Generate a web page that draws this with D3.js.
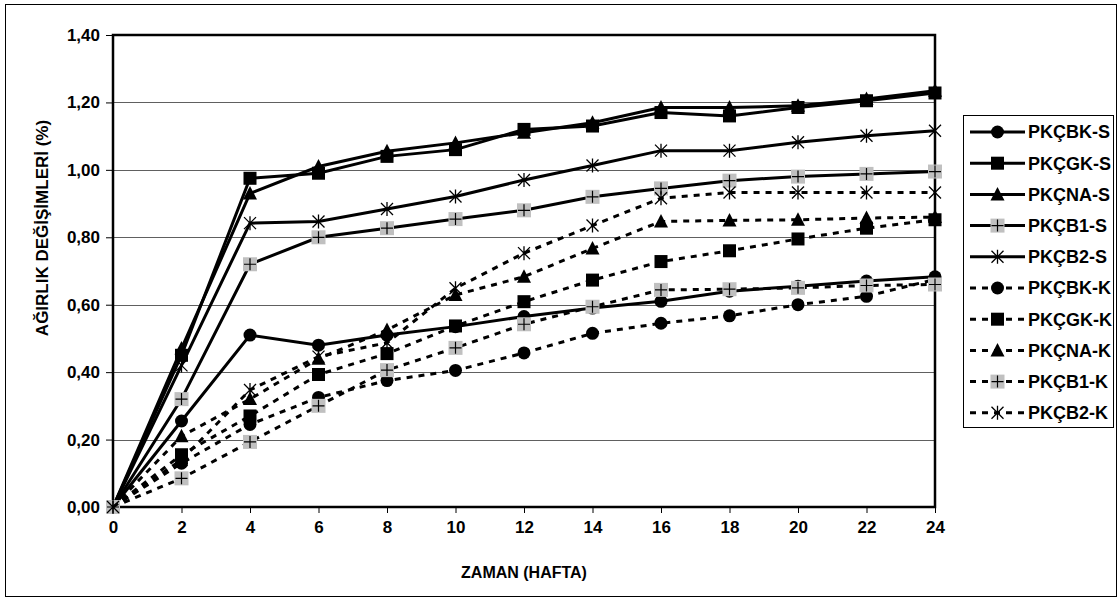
<!DOCTYPE html>
<html>
<head>
<meta charset="utf-8">
<script src="https://cdn.jsdelivr.net/npm/d3@7"></script>
<style>
  html, body { margin: 0; padding: 0; background: #fff; }
  svg { display: block; font-family: "Liberation Sans", Arial, sans-serif; }
</style>
</head>
<body>
<svg id="chart" width="1119" height="600"></svg>
<script>
// Weight change (%) of the samples over time (weeks)
const weeks = [0, 2, 4, 6, 8, 10, 12, 14, 16, 18, 20, 22, 24];
const yTicks = [0, 0.2, 0.4, 0.6, 0.8, 1.0, 1.2, 1.4];

const seriesNames = ["PKÇBK-S", "PKÇGK-S", "PKÇNA-S", "PKÇB1-S", "PKÇB2-S",
                     "PKÇBK-K", "PKÇGK-K", "PKÇNA-K", "PKÇB1-K", "PKÇB2-K"];

const bkS = [0, 0.255, 0.51, 0.48, 0.51, 0.535, 0.565, 0.59, 0.61, 0.64, 0.655, 0.67, 0.683];
const gkS = [0, 0.45, 0.975, 0.99, 1.04, 1.06, 1.12, 1.13, 1.17, 1.16, 1.185, 1.205, 1.228];
const naS = [0, 0.47, 0.93, 1.01, 1.055, 1.08, 1.11, 1.14, 1.185, 1.185, 1.19, 1.21, 1.235];
const b1S = [0, 0.32, 0.72, 0.80, 0.827, 0.854, 0.88, 0.92, 0.945, 0.968, 0.98, 0.988, 0.995];
const b2S = [0, 0.42, 0.842, 0.847, 0.884, 0.921, 0.97, 1.013, 1.057, 1.057, 1.082, 1.101, 1.116];
const bkK = [0, 0.13, 0.245, 0.325, 0.375, 0.405, 0.457, 0.515, 0.545, 0.567, 0.60, 0.625, 0.675];
const gkK = [0, 0.155, 0.27, 0.393, 0.455, 0.537, 0.609, 0.673, 0.728, 0.76, 0.795, 0.827, 0.852];
const naK = [0, 0.21, 0.32, 0.44, 0.525, 0.629, 0.683, 0.767, 0.847, 0.85, 0.852, 0.857, 0.86];
const b1K = [0, 0.085, 0.193, 0.30, 0.406, 0.472, 0.542, 0.594, 0.644, 0.646, 0.65, 0.657, 0.66];
const b2K = [0, 0.14, 0.347, 0.446, 0.487, 0.649, 0.753, 0.835, 0.916, 0.933, 0.933, 0.933, 0.933];

const seriesValues = [bkS, gkS, naS, b1S, b2S, bkK, gkK, naK, b1K, b2K];
const markerTypes = ["circle", "square", "triangle", "plus", "star",
                     "circle", "square", "triangle", "plus", "star"];
const dashedFlags = [false, false, false, false, false, true, true, true, true, true];

const series = seriesNames.map((name, i) => ({
  name,
  values: seriesValues[i].map((v, j) => ({ w: weeks[j], v })),
  marker: markerTypes[i],
  dashed: dashedFlags[i]
}));

const svg = d3.select("#chart");
const plot = { left: 113, right: 935, top: 35, bottom: 507 };

const x = d3.scaleLinear().domain([0, 24]).range([plot.left, plot.right]);
const y = d3.scaleLinear().domain([0, 1.4]).range([plot.bottom, plot.top]);

// outer chart frame
svg.append("rect")
  .attr("x", 5.5).attr("y", 4.5).attr("width", 1111).attr("height", 592)
  .attr("fill", "none").attr("stroke", "#000").attr("stroke-width", 1);

// horizontal gridlines
svg.append("g")
  .selectAll("line")
  .data(yTicks.filter(t => t > 0 && t < 1.4))
  .join("line")
  .attr("x1", plot.left).attr("x2", plot.right)
  .attr("y1", d => Math.round(y(d)) + 0.5).attr("y2", d => Math.round(y(d)) + 0.5)
  .attr("stroke", "#606060").attr("stroke-width", 1);

// y axis
const yAxis = svg.append("g")
  .attr("transform", `translate(${plot.left},0)`)
  .call(d3.axisLeft(y).tickValues(yTicks).tickSize(7).tickPadding(6)
    .tickFormat(d => d.toFixed(2).replace(".", ",")));
yAxis.select(".domain").remove();
yAxis.selectAll(".tick line").attr("stroke", "#000");
yAxis.selectAll(".tick text")
  .attr("font-size", 17).attr("font-weight", "bold").attr("fill", "#000")
  .attr("font-family", "Liberation Sans, Arial, sans-serif");

// x axis
const xAxis = svg.append("g")
  .attr("transform", `translate(0,${plot.bottom})`)
  .call(d3.axisBottom(x).tickValues(weeks).tickSize(6).tickPadding(8)
    .tickFormat(d3.format("d")));
xAxis.select(".domain").remove();
xAxis.selectAll(".tick line").attr("stroke", "#000");
xAxis.selectAll(".tick text")
  .attr("font-size", 17).attr("font-weight", "bold").attr("fill", "#000")
  .attr("font-family", "Liberation Sans, Arial, sans-serif");

// plot area border
svg.append("rect")
  .attr("x", plot.left).attr("y", plot.top)
  .attr("width", plot.right - plot.left).attr("height", plot.bottom - plot.top)
  .attr("fill", "none").attr("stroke", "#000").attr("stroke-width", 2.5);

// axis titles
svg.append("text")
  .attr("transform", "translate(48,228) rotate(-90)")
  .attr("text-anchor", "middle")
  .attr("font-size", 17).attr("font-weight", "bold")
  .text("AĞIRLIK DEĞİŞİMLERİ (%)");

svg.append("text")
  .attr("x", (plot.left + plot.right) / 2).attr("y", 578)
  .attr("text-anchor", "middle")
  .attr("font-size", 16).attr("font-weight", "bold")
  .text("ZAMAN (HAFTA)");

// marker drawing
function drawMarker(g, type) {
  if (type === "circle") {
    g.append("circle").attr("r", 6.5).attr("fill", "#000");
  } else if (type === "square") {
    g.append("rect").attr("x", -6.5).attr("y", -6.5).attr("width", 13).attr("height", 13).attr("fill", "#000");
  } else if (type === "triangle") {
    g.append("path").attr("d", "M0,-7.5L7,6L-7,6Z").attr("fill", "#000");
  } else if (type === "plus") {
    g.append("rect").attr("x", -7).attr("y", -7).attr("width", 14).attr("height", 14).attr("fill", "#c0c0c0");
    g.append("path").attr("d", "M-6,0H6M0,-6V6").attr("stroke", "#000").attr("stroke-width", 1.2);
  } else if (type === "star") {
    g.append("path").attr("d", "M-6,-6L6,6M-6,6L6,-6M0,-7V7")
      .attr("stroke", "#000").attr("stroke-width", 1.3).attr("fill", "none");
  }
}

const line = d3.line().x(d => x(d.w)).y(d => y(d.v));

// series: line then markers, drawn in series order
series.forEach(s => {
  const g = svg.append("g");
  g.append("path")
    .datum(s.values)
    .attr("d", line)
    .attr("fill", "none")
    .attr("stroke", "#000")
    .attr("stroke-width", 3)
    .attr("stroke-dasharray", s.dashed ? "6,6" : null);
  g.selectAll("g.mk")
    .data(s.values)
    .join("g")
    .attr("class", "mk")
    .attr("transform", d => `translate(${x(d.w)},${y(d.v)})`)
    .each(function () { drawMarker(d3.select(this), s.marker); });
});

// legend
const legend = { left: 963, top: 115, width: 150, height: 312, rowStart: 132, rowStep: 31.2 };
svg.append("rect")
  .attr("x", legend.left + 0.5).attr("y", legend.top + 0.5)
  .attr("width", legend.width).attr("height", legend.height)
  .attr("fill", "#fff").attr("stroke", "#000").attr("stroke-width", 1);

series.forEach((s, i) => {
  const cy = legend.rowStart + i * legend.rowStep;
  const g = svg.append("g").attr("transform", `translate(0,${cy})`);
  g.append("line")
    .attr("x1", 970).attr("x2", 1025).attr("y1", 0).attr("y2", 0)
    .attr("stroke", "#000").attr("stroke-width", 3)
    .attr("stroke-dasharray", s.dashed ? "6,6" : null);
  const m = g.append("g").attr("transform", "translate(997.5,0)");
  drawMarker(m, s.marker);
  g.append("text")
    .attr("x", 1028).attr("y", 0).attr("dy", "0.36em")
    .attr("font-size", 18).attr("font-weight", "bold")
    .text(s.name);
});
</script>
</body>
</html>
